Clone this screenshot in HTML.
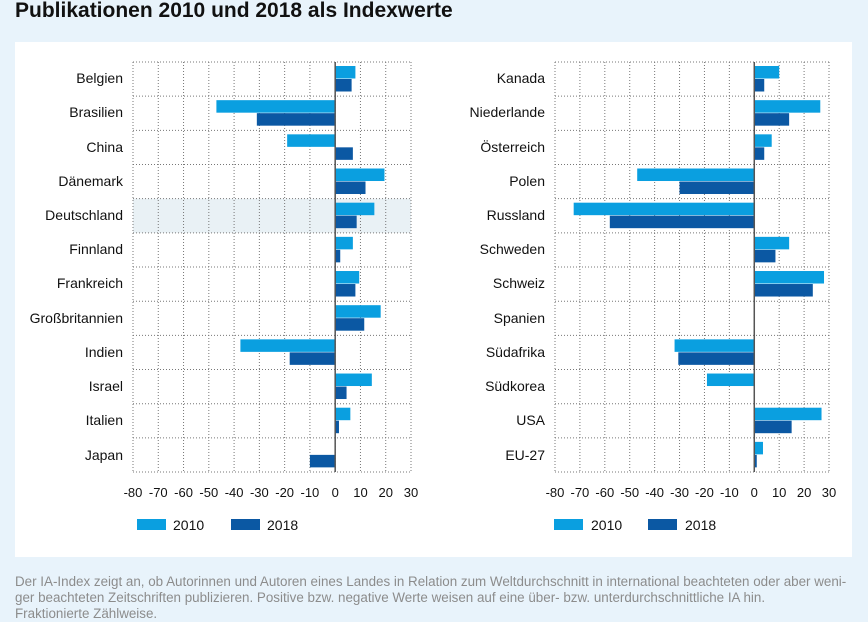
<!DOCTYPE html>
<html><head><meta charset="utf-8"><style>
body{margin:0;width:868px;height:618px;background:#e8f3fb;overflow:hidden;font-family:"Liberation Sans",sans-serif}
#t{position:absolute;left:15px;top:-1px;font-size:21px;font-weight:bold;color:#111}
#p{position:absolute;left:15px;top:42px;width:837px;height:515px;background:#fff}
#f{position:absolute;left:15px;top:574px;font-size:13.4px;line-height:16px;color:#8c8c8c;width:850px;white-space:nowrap}
svg{position:absolute;left:0;top:0}
text{font-family:"Liberation Sans",sans-serif;font-size:14px;fill:#111}
</style></head><body>
<div id="t">Publikationen 2010 und 2018 als Indexwerte</div>
<div id="p"></div>
<svg width="868" height="618" id="s">
<g id="g"></g>
<g text-anchor="end">
<text x="123" y="83">Belgien</text><text x="123" y="117">Brasilien</text><text x="123" y="152">China</text><text x="123" y="186">Dänemark</text><text x="123" y="220">Deutschland</text><text x="123" y="254">Finnland</text><text x="123" y="288">Frankreich</text><text x="123" y="323">Großbritannien</text><text x="123" y="357">Indien</text><text x="123" y="391">Israel</text><text x="123" y="425">Italien</text><text x="123" y="460">Japan</text>
<text x="545" y="83">Kanada</text><text x="545" y="117">Niederlande</text><text x="545" y="152">Österreich</text><text x="545" y="186">Polen</text><text x="545" y="220">Russland</text><text x="545" y="254">Schweden</text><text x="545" y="288">Schweiz</text><text x="545" y="323">Spanien</text><text x="545" y="357">Südafrika</text><text x="545" y="391">Südkorea</text><text x="545" y="425">USA</text><text x="545" y="460">EU-27</text>
</g>
<g text-anchor="middle" id="tk" style="font-size:13px"></g>
<rect x="137" y="519" width="29" height="11" fill="#0a9fe0"/><text x="173" y="530">2010</text>
<rect x="231" y="519" width="29" height="11" fill="#0b58a3"/><text x="267" y="530">2018</text>
<rect x="554" y="519" width="29" height="11" fill="#0a9fe0"/><text x="591" y="530">2010</text>
<rect x="648" y="519" width="29" height="11" fill="#0b58a3"/><text x="685" y="530">2018</text>
</svg>
<div id="f">Der IA-Index zeigt an, ob Autorinnen und Autoren eines Landes in Relation zum Weltdurchschnitt in international beachteten oder aber weni-<br>ger beachteten Zeitschriften publizieren. Positive bzw. negative Werte weisen auf eine über- bzw. unterdurchschnittliche IA hin.<br>Fraktionierte Zählweise.</div>
<script>
var g=document.getElementById('g'),tk=document.getElementById('tk'),h='',t='';
function chart(L,R,vals,hl){
 var top=62,rh=34.17,bot=top+12*rh,sc=(R-L)/110,z=L+80*sc;
 if(hl>=0)h+='<rect x="'+L+'" y="'+(top+hl*rh)+'" width="'+(R-L)+'" height="'+rh+'" fill="#e9f1f5"/>';
 for(var i=0;i<=11;i++){var x=L+i*10*sc;h+='<line x1="'+x+'" y1="'+top+'" x2="'+x+'" y2="'+bot+'" stroke="#777" stroke-width="1" stroke-dasharray="1,2"/>';
  t+='<text x="'+(x)+'" y="497" style="font-size:13px">'+((i-8)*10<0?'-'+(8-i)*10:(i-8)*10)+'</text>';}
 for(var j=0;j<=12;j++){var y=top+j*rh;h+='<line x1="'+L+'" y1="'+y+'" x2="'+R+'" y2="'+y+'" stroke="#777" stroke-width="1" stroke-dasharray="1,2"/>';}
 vals.forEach(function(v,j){var y=top+j*rh;
  [[v[0],4,'#0a9fe0'],[v[1],17,'#0b58a3']].forEach(function(b){var w=b[0]*sc;h+='<rect x="'+(w<0?z+w:z)+'" y="'+(y+b[1])+'" width="'+Math.abs(w)+'" height="12.5" fill="'+b[2]+'"/>';});});
 h+='<line x1="'+z+'" y1="'+top+'" x2="'+z+'" y2="'+bot+'" stroke="#555" stroke-width="1.5"/>';
}
chart(133,411,[[8,6.5],[-47,-31],[-19,7],[19.5,12],[15.5,8.5],[7,2],[9.5,8],[18,11.5],[-37.5,-18],[14.5,4.5],[6,1.5],[0,-10]],4);
chart(555,829,[[10,4],[26.5,14],[7,4],[-47,-30],[-72.5,-58],[14,8.5],[28,23.5],[0,0],[-32,-30.5],[-19,0],[27,15],[3.5,1]],-1);
g.innerHTML=h;tk.innerHTML=t;
</script>
</body></html>
